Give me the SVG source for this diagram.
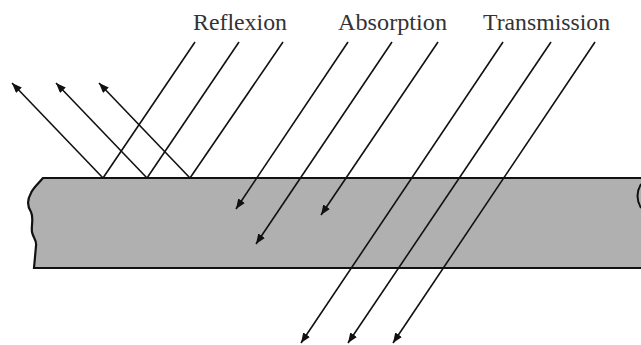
<svg xmlns="http://www.w3.org/2000/svg" width="641" height="345" viewBox="0 0 641 345">
<style>
.lbl{font-family:"Liberation Serif","Times New Roman",serif;font-size:23px;fill:#333}
.ray{stroke:#111;stroke-width:1.6;fill:none}
.arr{marker-end:url(#ah)}
</style>
<defs>
<marker id="ah" markerUnits="userSpaceOnUse" markerWidth="11" markerHeight="8" refX="10" refY="4" orient="auto">
<path d="M0,0 L10,4 L0,8 z" fill="#111"/>
</marker>
</defs>
<rect width="641" height="345" fill="#fff"/>
<g id="plate">
<path d="M645,178 L43,178 C38,184 33,188 31,193 C27,200 27,206 31,212 C34,218 31,226 32,232 C33,238 37,240 36,246 L34,268 L645,268 Z" fill="#b0b0b0" stroke="#111" stroke-width="2.2"/>
<path d="M641,184 Q634,196 641,208" fill="none" stroke="#111" stroke-width="2"/>
</g>
<g id="labels">
<text class="lbl" x="193" y="30" textLength="94" lengthAdjust="spacingAndGlyphs">Reflexion</text>
<text class="lbl" x="338" y="30" textLength="109" lengthAdjust="spacingAndGlyphs">Absorption</text>
<text class="lbl" x="483" y="30" textLength="127" lengthAdjust="spacingAndGlyphs">Transmission</text>
</g>
<g id="connectors">
<line class="ray" x1="195" y1="42" x2="103" y2="178"/>
<line class="ray" x1="239" y1="42" x2="147" y2="178"/>
<line class="ray" x1="283" y1="42" x2="190" y2="178"/>
<line class="ray arr" x1="103" y1="178" x2="12" y2="83"/>
<line class="ray arr" x1="147" y1="178" x2="56" y2="83"/>
<line class="ray arr" x1="190" y1="178" x2="99" y2="83"/>
<line class="ray arr" x1="348" y1="42" x2="236" y2="209"/>
<line class="ray arr" x1="392" y1="42" x2="256" y2="244"/>
<line class="ray arr" x1="438" y1="42" x2="321" y2="215"/>
<line class="ray arr" x1="503" y1="42" x2="301" y2="343"/>
<line class="ray arr" x1="551" y1="42" x2="348" y2="343"/>
<line class="ray arr" x1="595" y1="42" x2="393" y2="343"/>
</g>
</svg>
